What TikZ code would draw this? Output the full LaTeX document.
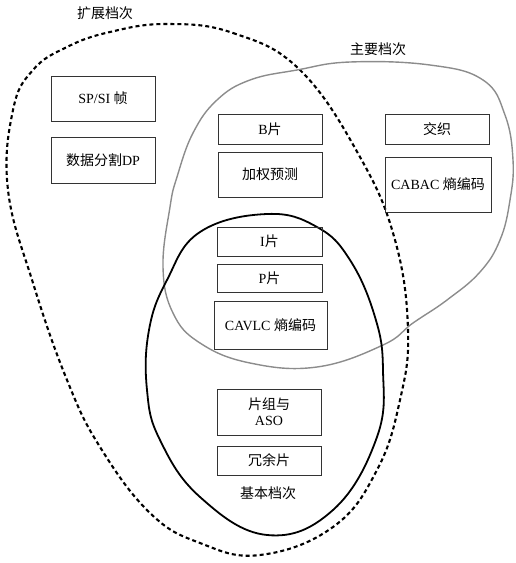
\documentclass[tikz,border=0pt]{standalone}
\usepackage{fontspec}
\setmainfont{Liberation Serif}
\newfontfamily\cjk{Noto Sans CJK SC}
\begin{document}
\begin{tikzpicture}[x=1pt,y=-1pt,
  feat/.style={draw=black!80,line width=0.9pt,inner sep=0pt,outer sep=0pt,align=center,font=\fontsize{14}{16}\selectfont},
  lbl/.style={font=\fontsize{14}{16}\selectfont\cjk},
  extcurve/.style={line width=2.1pt,dash pattern=on 4pt off 3pt},
  maincurve/.style={draw=black!45,line width=1.4pt},
  basecurve/.style={draw=black,line width=1.8pt}]
\useasboundingbox (0,0) rectangle (515,563);
% extended profile (dashed)
\draw[extcurve] plot[smooth cycle,tension=0.7] coordinates {
  (167,24) (233,33) (300,70) (360,157) (395,240) (408,330) (400,400) (377,470) (333,527) (260,555) (200,543) (150,513) (100,447) (67,380) (33,283) (8,190) (13,110) (33,70) (67,47) (110,32)};
% main profile (gray)
\draw[maincurve] plot[smooth cycle,tension=0.7] coordinates {
  (297,70) (350,62) (430,65) (483,80) (505,115) (513,160) (510,200) (500,240) (480,272) (447,300) (413,323) (383,345) (317,367) (250,363) (200,343) (173,313) (163,267) (170,207) (177,177) (193,133) (217,100) (250,80)};
% baseline profile (black)
\draw[basecurve] plot[smooth cycle,tension=0.7] coordinates {
  (267,214) (317,227) (350,260) (375,317) (383,370) (377,437) (333,510) (267,535) (200,497) (160,440) (147,390) (149,330) (167,280) (200,232)};
% feature boxes
\node[feat,minimum width=104pt,minimum height=45pt] (spsi) at (103,98.5) {SP/SI {\cjk 帧}};
\node[feat,minimum width=104pt,minimum height=46pt] (dp) at (103,160) {{\cjk 数据分割}DP};
\node[feat,minimum width=104pt,minimum height=30pt] (bslice) at (270,129) {B{\cjk 片}};
\node[feat,minimum width=104pt,minimum height=45pt] (wp) at (270,174.5) {\cjk 加权预测};
\node[feat,minimum width=104pt,minimum height=30pt] (inter) at (437,129) {\cjk 交织};
\node[feat,minimum width=106pt,minimum height=55pt] (cabac) at (438,184.5) {CABAC {\cjk 熵编码}};
\node[feat,minimum width=105pt,minimum height=29pt] (islice) at (269.5,241.5) {I{\cjk 片}};
\node[feat,minimum width=105pt,minimum height=28pt] (pslice) at (269.5,278) {P{\cjk 片}};
\node[feat,minimum width=113pt,minimum height=48pt] (cavlc) at (270.5,325) {CAVLC {\cjk 熵编码}};
\node[feat,minimum width=104pt,minimum height=46pt] (aso) at (269,412) {{\cjk 片组与}\\ASO};
\node[feat,minimum width=104pt,minimum height=29pt] (redund) at (269,460.5) {\cjk 冗余片};
% labels
\node[lbl] (extlbl) at (105,13) {扩展档次};
\node[lbl] (mainlbl) at (378,49) {主要档次};
\node[lbl] (baselbl) at (268,493) {基本档次};
\end{tikzpicture}
\end{document}
